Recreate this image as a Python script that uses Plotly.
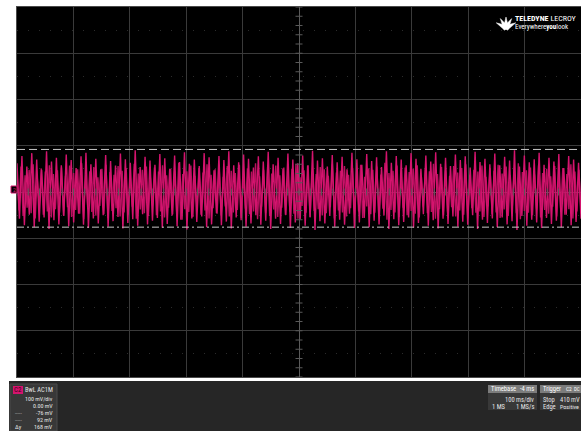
import numpy as np
import plotly.graph_objects as go

# ---- channel C2 acquisition (mV); alternating crest / trough of the carrier ----
upper = [62, 78, 55, 84, 70, 48, 88, 66, 74, 58, 81, 69, 52, 77, 85, 60, 72, 49, 80, 67,
         57, 83, 71, 63, 90, 54, 76, 68, 59, 82, 73, 50, 79, 65, 86, 61, 70, 56, 84, 75,
         47, 78, 69, 88, 58, 64, 81, 72, 53, 77, 66, 87, 60, 74, 51, 83, 70, 62, 79, 57,
         89, 68, 73, 55, 80, 64, 76, 49, 85, 71, 59, 82, 67, 75, 54, 88, 63, 78, 70, 58,
         84, 72, 50, 79, 66, 86, 61, 74, 56, 81, 69, 77, 53, 87, 65, 72, 60, 83, 58, 76,
         68, 90, 55, 79, 64, 71, 85, 59, 74, 66, 82, 52, 78, 70, 63]
lower = [-58, -72, -49, -76, -64, -55, -80, -61, -70, -52, -74, -66, -47, -71, -78, -57, -68, -50, -75, -63,
         -54, -79, -67, -59, -73, -48, -70, -62, -56, -77, -69, -51, -74, -60, -81, -57, -65, -53, -76, -70,
         -46, -72, -64, -79, -55, -61, -75, -68, -50, -71, -62, -80, -58, -69, -49, -77, -66, -59, -73, -54,
         -82, -63, -68, -52, -75, -60, -71, -47, -78, -66, -56, -76, -62, -70, -51, -80, -59, -72, -65, -55,
         -77, -67, -48, -73, -61, -79, -58, -69, -53, -75, -64, -71, -50, -80, -60, -67, -57, -76, -55, -70,
         -63, -82, -52, -73, -60, -66, -78, -56, -69, -62, -76, -49, -72, -65, -58]
# overlapping sweep (persistence) with a faster, smaller swing
mid_hi = [42, 55, 36, 48, 60, 33, 51, 44, 58, 39, 47, 53, 35, 57, 41, 49, 62, 38, 45, 54,
          32, 50, 59, 43, 37, 56, 46, 52, 34, 61, 40, 48, 55, 31, 53, 44, 58, 36, 50, 47,
          63, 39, 45, 57, 35, 52, 42, 60, 37, 49, 54, 33, 56, 46, 41, 59, 38, 51, 44, 62,
          34, 48, 55, 40, 57, 36, 53, 45, 50, 61, 32, 47, 58, 43, 39, 54, 49, 35, 60, 42,
          46, 56, 37, 52, 44, 59, 33, 51, 48, 55, 38, 63, 41, 46, 57, 36, 53, 43, 50, 58,
          34, 49, 45, 61, 39, 54, 47, 35, 56, 42, 52, 60, 37, 48, 44, 57, 33, 51, 46, 59,
          40, 55, 36, 49, 62, 43, 47, 53, 38, 58, 41, 50, 34, 56, 45, 52, 39, 60, 44, 48]
mid_lo = [-40, -52, -34, -46, -57, -31, -49, -42, -55, -37, -45, -50, -33, -54, -39, -47, -59, -36, -43, -51,
          -30, -48, -56, -41, -35, -53, -44, -49, -32, -58, -38, -46, -52, -29, -50, -42, -55, -34, -48, -45,
          -60, -37, -43, -54, -33, -49, -40, -57, -35, -47, -51, -31, -53, -44, -39, -56, -36, -48, -42, -59,
          -32, -46, -52, -38, -54, -34, -50, -43, -47, -58, -30, -45, -55, -41, -37, -51, -46, -33, -57, -40,
          -44, -53, -35, -49, -42, -56, -31, -48, -45, -52, -36, -60, -39, -44, -54, -34, -50, -41, -47, -55,
          -32, -46, -43, -58, -37, -51, -44, -33, -53, -40, -49, -57, -35, -45, -42, -54, -31, -48, -44, -56,
          -38, -52, -34, -46, -59, -41, -45, -50, -36, -55, -39, -47, -32, -53, -43, -49, -37, -57, -42, -46]

# cursor levels and acquisition settings (mV, s)
cursor_hi = 92
cursor_lo = -76
trigger_pos = -0.004
volts_div = 100
time_div = 0.1

W, H = 581, 431
PINK = "#d4146e"


def zigzag(hi, lo):
    n = min(len(hi), len(lo))
    ys = []
    for a, b in zip(hi[:n], lo[:n]):
        ys += [a, b]
    xs = np.linspace(-5 * time_div, 5 * time_div, len(ys))
    return xs, ys


def px(x):
    return x / W


def py(y):
    return 1 - y / H


fig = go.Figure()

xb, yb = zigzag(mid_hi, mid_lo)
fig.add_trace(go.Scatter(x=xb, y=yb, mode="lines", line=dict(color="#b8105f", width=1.4),
                         hoverinfo="skip"))
xa, ya = zigzag(upper, lower)
fig.add_trace(go.Scatter(x=xa, y=ya, mode="lines", line=dict(color=PINK, width=1.4),
                         hoverinfo="skip"))

# centre graticule ticks (1/5 division)
tv = np.arange(-4 * volts_div, 4 * volts_div + 1, volts_div / 5)
th = np.arange(-5 * time_div, 5 * time_div + 1e-9, time_div / 5)
fig.add_trace(go.Scatter(x=[0] * len(tv), y=tv, mode="markers",
                         marker=dict(symbol="line-ew", size=5, line=dict(color="#5a5a5a", width=1)),
                         hoverinfo="skip"))
fig.add_trace(go.Scatter(x=th, y=[0] * len(th), mode="markers",
                         marker=dict(symbol="line-ns", size=5, line=dict(color="#5a5a5a", width=1)),
                         hoverinfo="skip"))

# cursors
fig.add_hline(y=cursor_hi, line=dict(color="#c8c8c8", width=1, dash="8px,4px"))
fig.add_hline(y=cursor_lo, line=dict(color="#c8c8c8", width=1, dash="7px,3px,2px,3px"))

# trigger marker below the grid
fig.add_trace(go.Scatter(x=[trigger_pos], y=[-4 * volts_div - 7], mode="markers", cliponaxis=False,
                         marker=dict(symbol="triangle-up", size=6, color=PINK), hoverinfo="skip"))

shapes = []
# scope frame
shapes.append(dict(type="rect", xref="paper", yref="paper", x0=px(9), x1=1, y0=py(381), y1=py(5),
                   fillcolor="#000000", line=dict(width=0), layer="below"))
shapes.append(dict(type="rect", xref="paper", yref="paper", x0=px(9), x1=1, y0=py(7), y1=py(5),
                   fillcolor="#2e2e2e", line=dict(width=0), layer="below"))
# info bar
shapes.append(dict(type="rect", xref="paper", yref="paper", x0=px(9), x1=1, y0=0, y1=py(381),
                   fillcolor="#262626", line=dict(width=0), layer="below"))
shapes.append(dict(type="rect", xref="paper", yref="paper", x0=px(10), x1=px(57), y0=0, y1=py(384),
                   fillcolor="#383838", line=dict(color="#4a4a4a", width=1), layer="below"))
shapes.append(dict(type="rect", xref="paper", yref="paper", x0=px(13), x1=px(23), y0=py(394), y1=py(386),
                   fillcolor=PINK, line=dict(width=0)))
# timebase / trigger boxes
for x0, x1 in [(488, 537), (540, 581)]:
    shapes.append(dict(type="rect", xref="paper", yref="paper", x0=px(x0), x1=px(x1), y0=py(410), y1=py(393),
                       fillcolor="#383838", line=dict(width=0)))
    shapes.append(dict(type="rect", xref="paper", yref="paper", x0=px(x0), x1=px(x1), y0=py(393), y1=py(385),
                       fillcolor="#7c7c7c", line=dict(width=0)))
# ground marker
shapes.append(dict(type="rect", xref="paper", yref="paper", x0=px(11), x1=px(17), y0=py(193), y1=py(186),
                   fillcolor="#000000", line=dict(color=PINK, width=1)))
# logo: white fan of blades
cx, cy = 506, 28
for ang in [-62, -31, 0, 31, 62]:
    a = np.radians(ang)
    tipx, tipy = cx + 11 * np.sin(a), cy - 11 * np.cos(a)
    lx, ly = cx + 2.6 * np.cos(a), cy + 2.6 * np.sin(a)
    rx, ry = cx - 2.6 * np.cos(a), cy - 2.6 * np.sin(a)
    shapes.append(dict(type="path", xref="paper", yref="paper",
                       path=f"M {px(tipx)} {py(tipy)} L {px(lx)} {py(ly)} L {px(cx)} {py(cy + 1)} "
                            f"L {px(rx)} {py(ry)} Z",
                       fillcolor="#ffffff", line=dict(color="#ffffff", width=0.5)))

FONT = "Liberation Sans Narrow, Arial Narrow, Roboto Condensed, sans-serif"


def txt(x, y, s, anchor="left", size=7, color="#e6e6e6"):
    return dict(x=px(x), y=py(y), xref="paper", yref="paper", text=s, showarrow=False,
                xanchor=anchor, yanchor="middle", font=dict(family=FONT, size=size, color=color))


ann = [
    txt(18, 390, "C2", "center", 7, "#3a0018"),
    txt(55, 390, "BwL AC1M", "right", 6.5),
    txt(55, 398.5, "100 mV/div", "right", 6),
    txt(55, 405.5, "0.00 mV", "right", 6),
    txt(13, 412.5, "-----", "left", 5.5, "#bbbbbb"),
    txt(55, 412.5, "-76 mV", "right", 6),
    txt(13, 419.5, "-----", "left", 5.5, "#bbbbbb"),
    txt(55, 419.5, "92 mV", "right", 6),
    txt(13, 426.5, "Δy", "left", 6),
    txt(55, 426.5, "168 mV", "right", 6),
    txt(489, 389, "Timebase", "left", 6.5, "#ffffff"),
    txt(536, 389, "-4 ms", "right", 6.5, "#ffffff"),
    txt(536, 399.5, "100 ms/div", "right", 6.5),
    txt(490, 406.5, "1 MS", "left", 6.5),
    txt(536, 406.5, "1 MS/s", "right", 6.5),
    txt(541, 389, "Trigger", "left", 6.5, "#ffffff"),
    txt(564, 389, "C2", "left", 5.5, "#ffffff"),
    txt(572, 389, "DC", "left", 5, "#ffffff"),
    txt(541, 399.5, "Stop", "left", 6.5),
    txt(558, 399.5, "410 mV", "left", 6.5),
    txt(541, 406.5, "Edge", "left", 6.5),
    txt(558, 406.5, "Positive", "left", 6),
    txt(14, 189.5, "2", "center", 6, PINK),
    txt(513, 19, "<b>TELEDYNE</b> LECROY", "left", 8, "#ffffff"),
    txt(513, 27, "Everywhere<b>you</b>look", "left", 7, "#ffffff"),
]

fig.update_layout(
    width=W, height=H, margin=dict(l=0, r=0, t=0, b=0),
    paper_bgcolor="#ffffff", plot_bgcolor="#000000",
    showlegend=False, shapes=shapes, annotations=ann,
    xaxis=dict(domain=[px(17), 1], range=[-5 * time_div, 5 * time_div], dtick=time_div,
               showticklabels=False, ticks="", showgrid=True, gridcolor="#3a3a3a", gridwidth=1,
               zeroline=True, zerolinecolor="#5a5a5a", zerolinewidth=1,
               showline=True, linecolor="#4a4a4a", mirror=True, fixedrange=True),
    yaxis=dict(domain=[py(377), py(7)], range=[-4 * volts_div, 4 * volts_div], dtick=volts_div,
               showticklabels=False, ticks="", showgrid=True, gridcolor="#3a3a3a", gridwidth=1,
               zeroline=True, zerolinecolor="#5a5a5a", zerolinewidth=1,
               showline=True, linecolor="#4a4a4a", mirror=True, fixedrange=True,
               minor=dict(dtick=volts_div / 2, showgrid=True, gridcolor="#2c2c2c",
                          griddash="1px,10px", gridwidth=1)),
)

fig.write_html("out.html")
